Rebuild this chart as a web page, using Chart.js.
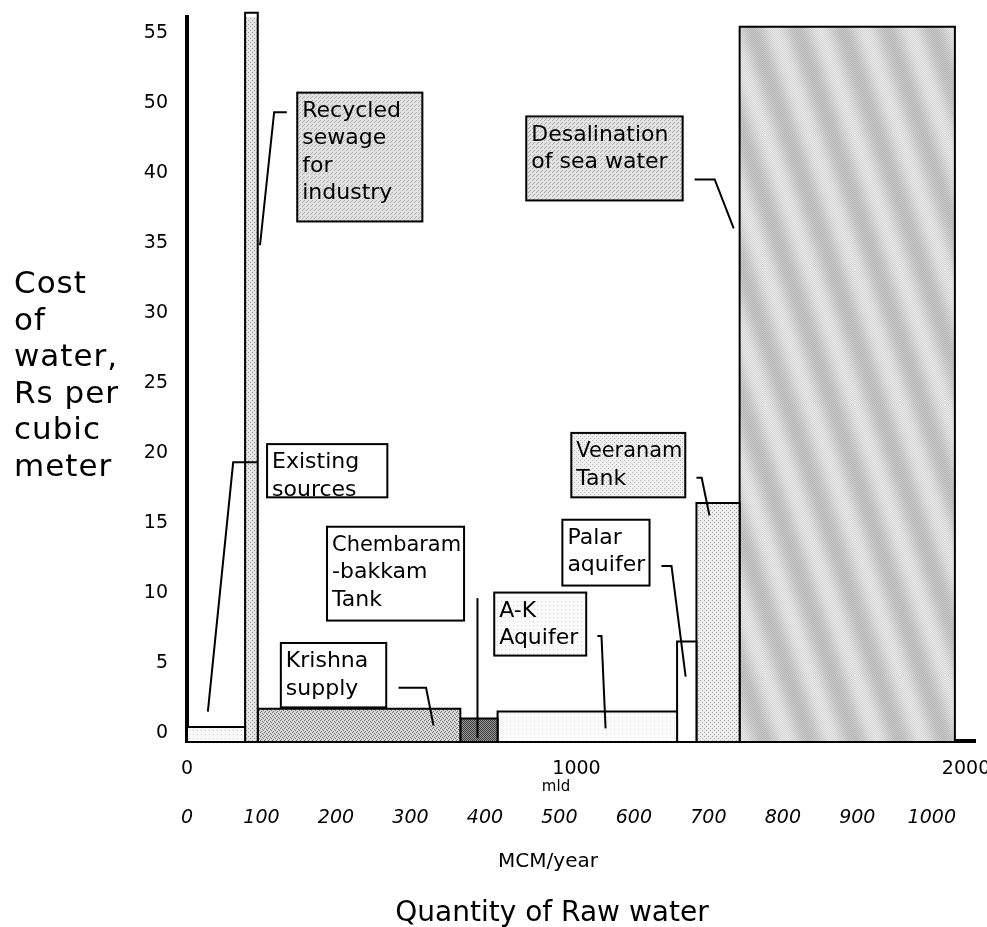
<!DOCTYPE html>
<html>
<head>
<meta charset="utf-8">
<script src="https://cdn.jsdelivr.net/npm/chart.js@4.4.1/dist/chart.umd.min.js"></script>
<style>
  html, body { margin: 0; padding: 0; background: #fff; }
  #wrap { width: 987px; height: 927px; position: relative; }
</style>
</head>
<body>
<div id="wrap"><canvas id="chart"></canvas></div>
<script>
// raw water sources, in order along the quantity axis
const sources = ["Existing sources", "Recycled sewage for industry", "Krishna supply", "Chembarambakkam Tank",
                 "A-K Aquifer", "Palar aquifer", "Veeranam Tank", "Desalination of sea water"];
const quantityMCM = [78, 17, 272, 50, 241, 26, 58, 289];   // MCM/year, width of each block
const costRs = [1.0, 57, 2.3, 1.6, 2.1, 7.1, 17, 56];       // Rs per cubic meter, height of each block

// tick labels (the cost axis skips 45, as in the original)
const yTicks = [0, 5, 10, 15, 20, 25, 30, 35, 40, 50, 55];
const mldTicks = [0, 1000, 2000];
const mcmTicks = [0, 100, 200, 300, 400, 500, 600, 700, 800, 900, 1000];
const yTitleLines = ["Cost", "of", "water,", "Rs per", "cubic", "meter"];

const FONT = '"Comic Sans MS", "DejaVu Sans", sans-serif';
Chart.defaults.font.family = FONT;
Chart.defaults.color = '#000';

// cost -> position on the drawn axis (40..50 squeezed into one step)
function axisPos(v) {
  if (v <= 40) return v;
  if (v <= 50) return 40 + (v - 40) / 2;
  return v - 5;
}

const ctx = document.getElementById('chart').getContext('2d');

// small halftone-ish fills
function stipple(bg, fg, dots) {
  const c = document.createElement('canvas');
  c.width = c.height = 4;
  const g = c.getContext('2d');
  g.fillStyle = bg; g.fillRect(0, 0, 4, 4);
  g.fillStyle = fg;
  dots.forEach(([a, b]) => g.fillRect(a, b, 1, 1));
  return ctx.createPattern(c, 'repeat');
}
// grey with broad steep light/dark bands, like the desalination block
function waves() {
  const W = 45, H = 135;
  const c = document.createElement('canvas');
  c.width = W; c.height = H;
  const g = c.getContext('2d');
  for (let yy = 0; yy < H; yy++) {
    for (let xx = 0; xx < W; xx++) {
      const ph = ((yy - 3 * xx) % H + H) % H;
      let v = 210 + 17 * Math.cos(2 * Math.PI * ph / H);
      if ((xx + yy) % 2) v -= 14; else v += 8;
      v = Math.round(Math.min(250, v));
      g.fillStyle = `rgb(${v},${v},${v})`;
      g.fillRect(xx, yy, 1, 1);
    }
  }
  return ctx.createPattern(c, 'repeat');
}

const fills = [
  stipple('#fafafa', '#cfcfcf', [[1, 2]]),
  stipple('#e4e4e4', '#9a9a9a', [[0, 0], [2, 2]]),
  stipple('#dadada', '#707070', [[0, 0], [2, 1], [1, 3], [3, 2]]),
  stipple('#9a9a9a', '#3a3a3a', [[0, 0], [2, 0], [1, 1], [3, 1], [0, 2], [2, 2], [1, 3], [3, 3]]),
  stipple('#fbfbfb', '#dddddd', [[2, 1]]),
  '#ffffff',
  stipple('#ededed', '#a8a8a8', [[0, 0], [2, 2]]),
  waves()
];

// annotation boxes; x in MCM/year, y in axis positions
const notes = [
  { lines: ["Recycled", "sewage", "for", "industry"], box: [148, 46.3, 316, 37.1],
    fill: stipple('#e2e2e2', '#b0b0b0', [[0, 0], [2, 2], [3, 1]]), leader: [[134, 44.9], [117, 44.9], [98, 35.4]] },
  { lines: ["Existing", "sources"], box: [107.5, 21.2, 269, 17.4], fill: '#fff',
    leader: [[95, 19.9], [62, 19.9], [28, 2.1]] },
  { lines: ["Chembaram", "-bakkam", "Tank"], box: [188, 15.3, 372, 8.6], fill: '#fff',
    leader: [[390, 10.2], [390, 0.2]] },
  { lines: ["Krishna", "supply"], box: [126, 7.0, 267.5, 2.4], fill: '#fff',
    leader: [[284, 3.8], [321, 3.8], [331, 1.1]] },
  { lines: ["A-K", "Aquifer"], box: [412.5, 10.6, 536, 6.1], fill: stipple('#fbfbfb', '#d8d8d8', [[1, 1]]),
    leader: [[551, 7.5], [556.5, 7.5], [562, 0.9]] },
  { lines: ["Palar", "aquifer"], box: [504, 15.8, 621, 11.1], fill: '#fff',
    leader: [[637, 12.5], [650.5, 12.5], [669.5, 4.6]] },
  { lines: ["Veeranam", "Tank"], box: [516, 22.0, 669, 17.4], fill: stipple('#efefef', '#b8b8b8', [[0, 0], [2, 2]]),
    leader: [[684, 18.8], [691, 18.8], [701.5, 16.1]] },
  { lines: ["Desalination", "of sea water"], box: [455.5, 44.6, 665.5, 38.6], fill: stipple('#e4e4e4', '#a8a8a8', [[0, 0], [2, 2], [1, 3]]),
    leader: [[681.5, 40.1], [708.5, 40.1], [734, 36.6]] }
];

let start = 0;
const datasets = sources.map((name, i) => {
  const x0 = start, x1 = start + quantityMCM[i];
  start = x1;
  const h = axisPos(costRs[i]);
  return {
    label: name,
    xAxisID: 'x',
    yAxisID: 'y',
    data: [{ x: x0, y: 0 }, { x: x0, y: h }, { x: x1, y: h }, { x: x1, y: 0 }],
    fill: 'origin',
    backgroundColor: fills[i],
    borderColor: '#000',
    borderWidth: 2,
    pointRadius: 0,
    tension: 0,
    clip: false
  };
});

const notesPlugin = {
  id: 'notes',
  afterDatasetsDraw(chart) {
    const c = chart.ctx, xs = chart.scales.x, ys = chart.scales.y;
    c.save();
    c.lineWidth = 2;
    c.strokeStyle = '#000';
    notes.forEach(n => {
      const x0 = xs.getPixelForValue(n.box[0]), y0 = ys.getPixelForValue(n.box[1]);
      const x1 = xs.getPixelForValue(n.box[2]), y1 = ys.getPixelForValue(n.box[3]);
      c.fillStyle = n.fill;
      c.fillRect(x0, y0, x1 - x0, y1 - y0);
      c.strokeRect(x0, y0, x1 - x0, y1 - y0);
      c.fillStyle = '#000';
      c.font = '22px ' + FONT;
      c.textAlign = 'left';
      c.textBaseline = 'middle';
      n.lines.forEach((t, i) => c.fillText(t, x0 + 5, y0 + 18.5 + i * 27.5, x1 - x0 - 8));
      c.beginPath();
      n.leader.forEach(([a, b], i) => {
        const px = xs.getPixelForValue(a), py = ys.getPixelForValue(b);
        if (i) c.lineTo(px, py); else c.moveTo(px, py);
      });
      c.stroke();
    });
    c.restore();
  },
  afterDraw(chart) {
    const c = chart.ctx;
    c.save();
    c.fillStyle = '#000';
    c.textBaseline = 'middle';
    // horizontal y-axis title on the left
    c.textAlign = 'left';
    c.font = '31px ' + FONT;
    c.letterSpacing = '1px';
    yTitleLines.forEach((t, i) => c.fillText(t, 14, 285 + i * 36.5));
    c.letterSpacing = '0px';
    // axis titles, set a little left of centre as in the original
    c.textAlign = 'center';
    c.font = '15px ' + FONT;
    c.fillText('mld', 556, 787);
    c.font = '20px ' + FONT;
    c.fillText('MCM/year', 548, 862);
    c.font = '28px ' + FONT;
    c.fillText('Quantity of Raw water', 552, 914);
    c.restore();
  }
};

new Chart(ctx, {
  type: 'line',
  data: { datasets },
  options: {
    responsive: true,
    maintainAspectRatio: false,
    animation: false,
    layout: { padding: { top: 17, right: 12, left: 0, bottom: 55 } },
    plugins: {
      legend: { display: false },
      tooltip: { enabled: false }
    },
    scales: {
      x: {
        type: 'linear', position: 'bottom', weight: 2, min: 0, max: 1058,
        afterBuildTicks: s => { s.ticks = mcmTicks.map(v => ({ value: v })); },
        afterFit: s => { s.height = 77; s.paddingLeft = 0; s.paddingRight = 0; },
        grid: { display: false, drawTicks: false },
        border: { display: false },
        ticks: { autoSkip: false, maxRotation: 0, padding: 12, font: { size: 19, style: 'italic' }, callback: (v, i) => mcmTicks[i] }
      },
      xMld: {
        type: 'linear', position: 'bottom', weight: 1, min: 0, max: 2023,
        afterBuildTicks: s => { s.ticks = mldTicks.map(v => ({ value: v })); },
        afterFit: s => { s.height = 54; s.paddingLeft = 0; s.paddingRight = 0; },
        grid: { display: false, drawTicks: false },
        border: { display: true, color: '#000', width: 4 },
        ticks: { autoSkip: false, maxRotation: 0, padding: 17, font: { size: 19 }, callback: (v, i) => mldTicks[i] }
      },
      y: {
        type: 'linear', min: 0, max: 51.7,
        afterBuildTicks: s => { s.ticks = yTicks.map(v => ({ value: axisPos(v) })); },
        afterFit: s => { s.width = 187; s.paddingTop = 0; s.paddingBottom = 0; },
        grid: { display: false, drawTicks: false },
        border: { display: true, color: '#000', width: 4 },
        ticks: { autoSkip: false, padding: 19, labelOffset: -8, font: { size: 19 }, callback: (v, i) => yTicks[i] }
      }
    }
  },
  plugins: [notesPlugin]
});
</script>
</body>
</html>
